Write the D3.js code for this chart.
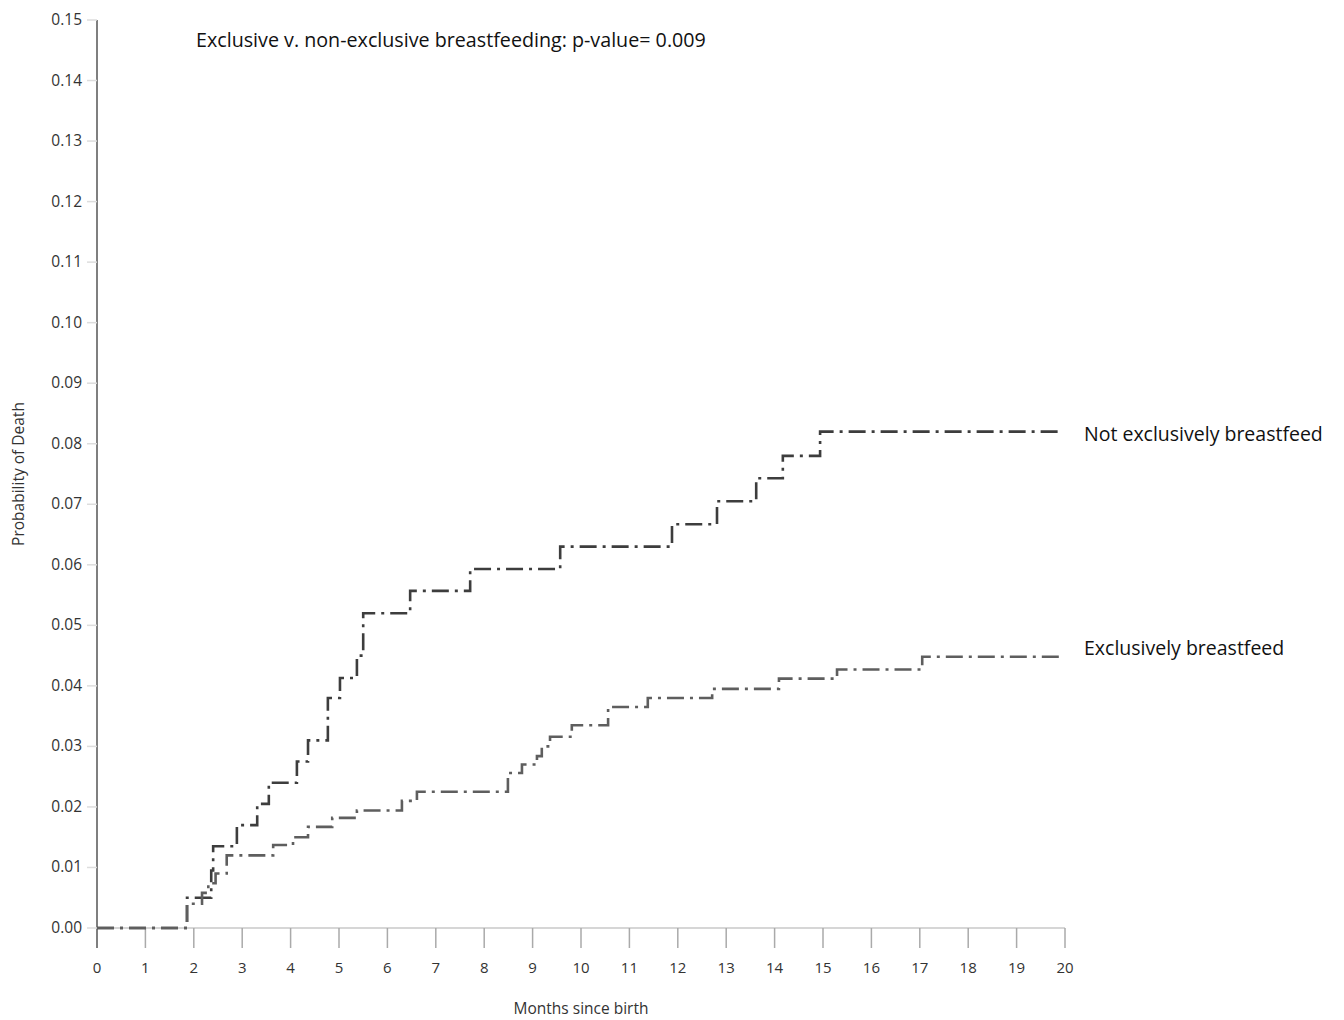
<!DOCTYPE html>
<html>
<head>
<meta charset="utf-8">
<script src="https://cdn.jsdelivr.net/npm/d3@7"></script>
<style>
  body { margin: 0; background: #fff; }
  text { font-family: "Open Sans", Lato, sans-serif; }
</style>
</head>
<body>
<div id="chart"></div>
<script>
// Step times (months) and cumulative probability of death
const notExclMonths = [0, 1.86, 2.36, 2.40, 2.89, 3.31, 3.55, 4.13, 4.36, 4.77, 5.02, 5.37, 5.50, 6.47, 7.71, 9.57, 11.88, 12.81, 13.62, 14.17, 14.94, 19.94];
const notExclProb   = [0, 0.005, 0.0095, 0.0135, 0.017, 0.0205, 0.024, 0.0275, 0.031, 0.038, 0.0413, 0.045, 0.052, 0.0557, 0.0593, 0.063, 0.0667, 0.0705, 0.0743, 0.078, 0.082, 0.082];

const exclMonths = [0, 1.86, 2.17, 2.30, 2.45, 2.68, 3.64, 4.05, 4.36, 4.86, 5.37, 6.30, 6.61, 8.49, 8.78, 9.09, 9.19, 9.36, 9.81, 10.56, 11.38, 12.71, 14.09, 15.29, 17.05, 19.90];
const exclProb   = [0, 0.004, 0.0058, 0.0074, 0.009, 0.012, 0.0137, 0.015, 0.0167, 0.0182, 0.0194, 0.021, 0.0225, 0.0256, 0.027, 0.0284, 0.030, 0.0316, 0.0335, 0.0365, 0.038, 0.0395, 0.0412, 0.0427, 0.0448, 0.0448];

const xTicks = d3.range(0, 21);
const yTicks = d3.range(0, 16).map(i => i / 100);
const annotation = "Exclusive v. non-exclusive breastfeeding: p-value= 0.009";
const seriesNames = ["Not exclusively breastfeed", "Exclusively breastfeed"];

const W = 1344, H = 1020;
const margin = {top: 20, right: 279, bottom: 92, left: 97},
      width = W - margin.left - margin.right,
      height = H - margin.top - margin.bottom;

const svg = d3.select("#chart").append("svg")
    .attr("width", W)
    .attr("height", H);

const g = svg.append("g")
    .attr("transform", `translate(${margin.left},${margin.top})`);

const x = d3.scaleLinear().domain([0, 20]).range([0, width]);
const y = d3.scaleLinear().domain([0, 0.15]).range([height, 0]);

// x axis: light line at zero with ticks hanging below
g.append("line")
    .attr("x1", 0).attr("x2", width)
    .attr("y1", height).attr("y2", height)
    .attr("stroke", "#c8c8c8").attr("stroke-width", 1.5);

g.selectAll(".xtick")
    .data(xTicks)
    .enter().append("line")
    .attr("x1", d => x(d)).attr("x2", d => x(d))
    .attr("y1", height).attr("y2", height + 20)
    .attr("stroke", d => d === 0 ? "#555" : "#aaa")
    .attr("stroke-width", 1.5);

g.selectAll(".xlabel")
    .data(xTicks)
    .enter().append("text")
    .attr("x", d => x(d))
    .attr("y", height + 45)
    .attr("text-anchor", "middle")
    .attr("font-size", 15)
    .attr("fill", "#333")
    .text(d => d);

// y axis
g.append("line")
    .attr("x1", 0).attr("x2", 0)
    .attr("y1", 0).attr("y2", height)
    .attr("stroke", "#555").attr("stroke-width", 1.5);

g.selectAll(".ytick")
    .data(yTicks)
    .enter().append("line")
    .attr("x1", -10).attr("x2", 0)
    .attr("y1", d => y(d)).attr("y2", d => y(d))
    .attr("stroke", "#ddd").attr("stroke-width", 1.5);

g.selectAll(".ylabel")
    .data(yTicks)
    .enter().append("text")
    .attr("x", -15)
    .attr("y", d => y(d) + 5)
    .attr("text-anchor", "end")
    .attr("font-size", 15.5)
    .attr("fill", "#333")
    .text(d => d3.format(".2f")(d));

// axis titles
svg.append("text")
    .attr("transform", `translate(24,474) rotate(-90)`)
    .attr("text-anchor", "middle")
    .attr("font-size", 15.5)
    .attr("fill", "#333")
    .text("Probability of Death");

svg.append("text")
    .attr("x", 581)
    .attr("y", 1014)
    .attr("text-anchor", "middle")
    .attr("font-size", 15.5)
    .attr("fill", "#333")
    .text("Months since birth");

// step curves
const line = d3.line()
    .x(d => x(d[0]))
    .y(d => y(d[1]))
    .curve(d3.curveStepAfter);

const series = [
    {name: seriesNames[0], data: d3.zip(notExclMonths, notExclProb), color: "#3d3d3d", dy: 9},
    {name: seriesNames[1], data: d3.zip(exclMonths, exclProb), color: "#5e5e5e", dy: -2}
];

g.selectAll(".km")
    .data(series)
    .enter().append("path")
    .attr("d", d => line(d.data))
    .attr("fill", "none")
    .attr("stroke", d => d.color)
    .attr("stroke-width", 2.6)
    .attr("stroke-dasharray", "17,6,3,6");

// series labels at the end of each curve
g.selectAll(".slabel")
    .data(series)
    .enter().append("text")
    .attr("x", x(20) + 19)
    .attr("y", d => y(d.data[d.data.length - 1][1]) + d.dy)
    .attr("font-size", 19.5)
    .attr("fill", "#111")
    .text(d => d.name);

// annotation
svg.append("text")
    .attr("x", 196)
    .attr("y", 47)
    .attr("font-size", 19.7)
    .attr("fill", "#111")
    .text(annotation);
</script>
</body>
</html>
